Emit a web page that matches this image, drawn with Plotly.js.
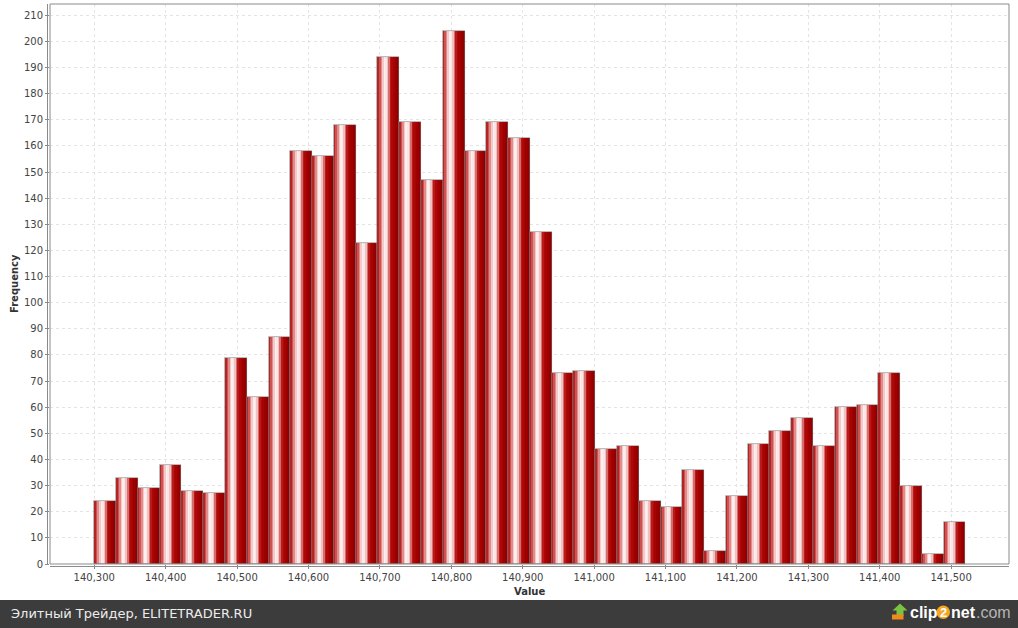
<!DOCTYPE html>
<html>
<head>
<meta charset="utf-8">
<script src="https://cdn.plot.ly/plotly-3.0.1.min.js"></script>
<style>
  html, body { margin:0; padding:0; background:#ffffff; }
  #chart { width:1018px; height:628px; }
</style>
</head>
<body>
<div id="chart"></div>
<script>
// ---- data ----
const binStart = 140300;
const binWidth = 30.5;
const frequencies = [24, 33, 29, 38, 28, 27, 79, 64, 87, 158,
                     156, 168, 123, 194, 169, 147, 204, 158, 169, 163,
                     127, 73, 74, 44, 45, 24, 22, 36, 5, 26,
                     46, 51, 56, 45, 60, 61, 73, 30, 4, 16];
const xTitle = "Value";
const yTitle = "Frequency";
const footerText = "Элитный Трейдер, ELITETRADER.RU";

// ---- derived ----
const centers = frequencies.map((_, i) => binStart + binWidth * (i + 0.5));

// gradient profile across each bar (JFreeChart-like cylinder shading)
const stops = [
  [0.00, [168, 12, 12]],
  [0.12, [210, 90, 90]],
  [0.30, [255, 242, 242]],
  [0.44, [250, 222, 222]],
  [0.62, [180, 10, 10]],
  [0.82, [158, 0, 0]],
  [1.00, [140, 0, 0]]
];
function colorAt(t) {
  for (let k = 0; k < stops.length - 1; k++) {
    const a = stops[k], b = stops[k + 1];
    if (t >= a[0] && t <= b[0]) {
      const f = (t - a[0]) / (b[0] - a[0]);
      const c = a[1].map((v, j) => Math.round(v + (b[1][j] - v) * f));
      return `rgb(${c[0]},${c[1]},${c[2]})`;
    }
  }
  const c = stops[stops.length - 1][1];
  return `rgb(${c[0]},${c[1]},${c[2]})`;
}

const N = 14;
const stripW = binWidth / N;
const traces = [];
for (let i = 0; i < N; i++) {
  const w = (i < N - 1) ? stripW * 1.6 : stripW;
  const wClamped = Math.min(w, binWidth - i * stripW);
  traces.push({
    type: 'bar',
    x: centers,
    y: frequencies,
    width: wClamped,
    offset: -binWidth / 2 + i * stripW,
    marker: { color: colorAt((i + 0.5) / N), line: { width: 0 } },
    hoverinfo: 'skip',
    showlegend: false
  });
}
// outline
traces.push({
  type: 'bar',
  x: centers,
  y: frequencies,
  width: binWidth,
  marker: { color: 'rgba(0,0,0,0)', line: { color: 'rgba(120,120,120,0.7)', width: 0.8 } },
  hovertemplate: '%{x}: %{y}<extra></extra>',
  showlegend: false
});

// ---- layout helpers (pixel -> paper) ----
const W = 1018, H = 628;
const mL = 50, mR = 9, mT = 4, mB = 64;
const pw = W - mL - mR, ph = H - mT - mB;
const px = x => (x - mL) / pw;
const py = y => (H - mB - y) / ph;

const font = 'DejaVu Sans, Verdana, sans-serif';
const logoFont = 'Liberation Sans, Arial, sans-serif';

function pathFromPx(pts) {
  return 'M' + pts.map(p => px(p[0]).toFixed(5) + ',' + py(p[1]).toFixed(5)).join(' L') + ' Z';
}

const layout = {
  width: W, height: H,
  margin: { l: mL, r: mR, t: mT, b: mB, pad: 0 },
  paper_bgcolor: '#ffffff',
  plot_bgcolor: '#ffffff',
  barmode: 'overlay',
  bargap: 0,
  showlegend: false,
  font: { family: font, size: 10, color: '#444444' },
  xaxis: {
    range: [140238, 141581],
    tick0: 140300, dtick: 100,
    tickformat: ',d',
    ticks: 'outside', ticklen: 4, tickcolor: '#888888',
    showgrid: true, gridcolor: '#e4e4e4', griddash: 'dot', gridwidth: 1,
    zeroline: false, showline: false,
    tickfont: { family: font, size: 10, color: '#444444' },
    fixedrange: true
  },
  yaxis: {
    range: [0, 214.3],
    tick0: 0, dtick: 10,
    ticks: 'outside', ticklen: 4, tickcolor: '#888888',
    showgrid: true, gridcolor: '#e4e4e4', griddash: 'dot', gridwidth: 1,
    zeroline: false, showline: false,
    tickfont: { family: font, size: 10, color: '#444444' },
    fixedrange: true
  },
  shapes: [
    { type: 'rect', xref: 'paper', yref: 'paper', x0: 0, x1: 1, y0: 0, y1: 1,
      line: { color: '#8a8a8a', width: 1 }, fillcolor: 'rgba(0,0,0,0)', layer: 'above' },
    { type: 'line', xref: 'paper', yref: 'paper', x0: px(47.5), x1: px(47.5), y0: 0, y1: 1,
      line: { color: '#8a8a8a', width: 1 } },
    { type: 'line', xref: 'paper', yref: 'paper', x0: 0, x1: 1, y0: py(566.5), y1: py(566.5),
      line: { color: '#8a8a8a', width: 1 } },
    // footer bar
    { type: 'rect', xref: 'paper', yref: 'paper', x0: px(0), x1: px(W), y0: py(600), y1: py(H + 2),
      line: { width: 0 }, fillcolor: '#3c3c3c' },
    // logo arrow (green)
    { type: 'path', xref: 'paper', yref: 'paper',
      path: pathFromPx([[900, 603.5], [907.5, 610.5], [903.5, 610.5], [903.5, 616], [896.5, 616], [896.5, 610.5], [892.5, 610.5]]),
      fillcolor: '#7cc242', line: { width: 0 } },
    // logo base (orange)
    { type: 'path', xref: 'paper', yref: 'paper',
      path: pathFromPx([[892, 614.5], [903.5, 614.5], [903.5, 619.5], [892, 619.5]]),
      fillcolor: '#f08a1c', line: { width: 0 } },
    // orange circle behind "2"
    { type: 'circle', xref: 'paper', yref: 'paper',
      x0: px(936.5), x1: px(950), y0: py(605.5), y1: py(619),
      fillcolor: '#f5a623', line: { width: 0 } }
  ],
  annotations: [
    { text: '<b>' + yTitle + '</b>', xref: 'paper', yref: 'paper',
      x: px(14), y: py(284), textangle: -90, showarrow: false,
      font: { family: font, size: 10, color: '#333333' }, xanchor: 'center', yanchor: 'middle' },
    { text: '<b>' + xTitle + '</b>', xref: 'paper', yref: 'paper',
      x: px(529), y: py(591), showarrow: false,
      font: { family: font, size: 10, color: '#333333' }, xanchor: 'center', yanchor: 'middle' },
    { text: footerText, xref: 'paper', yref: 'paper',
      x: px(9), y: py(613.5), showarrow: false, xanchor: 'left', yanchor: 'middle',
      font: { family: font, size: 13, color: '#ececec' } },
    { text: '<b>clip</b>', xref: 'paper', yref: 'paper',
      x: px(908), y: py(612), showarrow: false, xanchor: 'left', yanchor: 'middle',
      font: { family: logoFont, size: 16, color: '#ffffff' } },
    { text: '<b>2</b>', xref: 'paper', yref: 'paper',
      x: px(943.3), y: py(612.3), showarrow: false, xanchor: 'center', yanchor: 'middle',
      font: { family: logoFont, size: 13, color: '#ffffff' } },
    { text: '<b>net</b>', xref: 'paper', yref: 'paper',
      x: px(949), y: py(612), showarrow: false, xanchor: 'left', yanchor: 'middle',
      font: { family: logoFont, size: 16, color: '#ffffff' } },
    { text: '.com', xref: 'paper', yref: 'paper',
      x: px(974), y: py(612), showarrow: false, xanchor: 'left', yanchor: 'middle',
      font: { family: logoFont, size: 16, color: '#b5b5b5' } }
  ]
};

Plotly.newPlot('chart', traces, layout, { displayModeBar: false });
</script>
</body>
</html>
